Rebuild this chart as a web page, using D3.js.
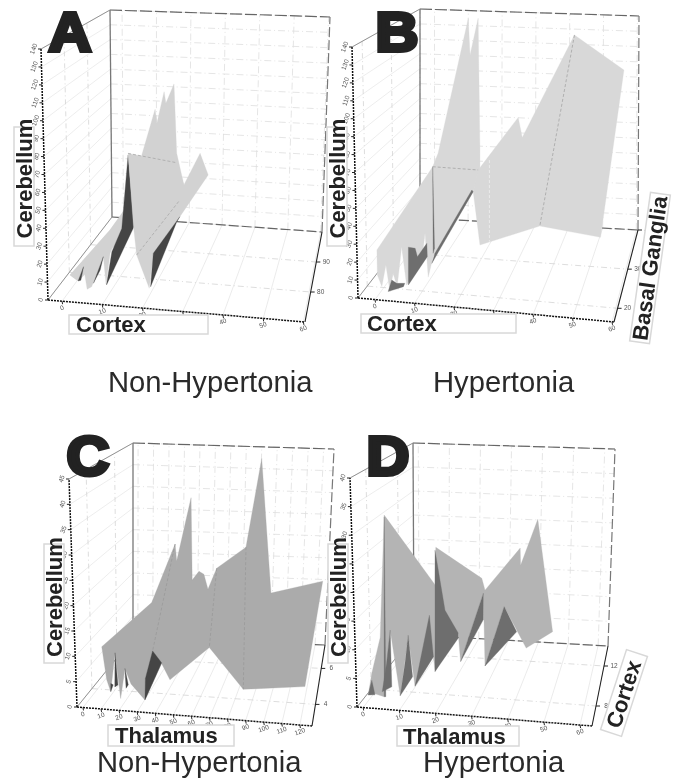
<!DOCTYPE html>
<html>
<head>
<meta charset="utf-8">
<script src="https://cdn.jsdelivr.net/npm/d3@7/dist/d3.min.js"></script>
<style>
html,body{margin:0;padding:0;background:#fff;}
svg{display:block;filter:blur(0.55px);}
text{font-family:"Liberation Sans",Arial,sans-serif;}
</style>
</head>
<body>
<svg id="chart" width="683" height="778"></svg>
<script>
// ---------- Axis values ----------
const cortexTicksAB = [0,10,20,30,40,50,60];
const thalamusTicksC = [0,10,20,30,40,50,60,70,80,90,100,110,120];
const thalamusTicksD = [0,10,20,30,40,50,60];
const cerebellumTicksAB = [0,10,20,30,40,50,60,70,80,90,100,110,120,130,140];
const cerebellumTicksC = [0,5,10,15,20,25,30,35,40,45];
const cerebellumTicksD = [0,5,10,15,20,25,30,35,40];
const depthTicksA = [80,90];
const depthTicksB = [20,30,40];
const depthTicksC = [4,6];
const depthTicksD = [8,12];

// ---------- Panel A: Cortex / Cerebellum surface pieces (non-hypertonia) ----------
const aBackX = [4.9,13.8,17.5,23.8,24.2,25.8,26.2,28,28.6,30.2,19,13.8,6.7];
const aBackZ = [13.8,38.7,51.8,109.1,100.5,119.2,112.1,123.3,81.1,61.5,39.3,26.5,9.7];
const aLowX = [4.9,6.7,7.9,8.7,9.7,12.3,12.9,13.8,16.4,17.5,13.8];
const aLowZ = [13.8,9.7,18,4.1,5.4,22.9,6.2,24.5,39.9,51.8,38.7];
const aSheetX = [17.8,28.6,30.2,33.8,35.6,29.3,23.4,22.5,19.7,19];
const aSheetZ = [84,75.4,61.5,79.7,66.1,42.5,21.9,1,21.9,39.3];
const aDark1X = [17.8,19.1,13,14.2,16.4], aDark1Z = [83,39.2,5.6,25.4,38.9];
const aDark2X = [12.3,10.1,11.6], aDark2Z = [22.9,7.4,15];
const aDark3X = [7.9,6.7,7.3], aDark3Z = [18,9.7,10];
const aDark4X = [29.3,23.4,22.8,28.6], aDark4Z = [42.5,21.9,1.8,39.5];
const aFoldX = [[17.8,28.6],[19.7,29.3]], aFoldZ = [[84,75.4],[21.9,52.6]];

// ---------- Panel B: Cortex / Cerebellum surface pieces (hypertonia) ----------
const bLeftX = [4.2,16.6,17.8,24.5,24.9,26.7,27.1,27.1,25.6,16.7,15.6,14.9,14.2,10.8,9.7,8.7,7.8,7.1,6.2,5.3,4.3];
const bLeftZ = [23.1,61.9,68.4,134.3,115.9,133.9,67.9,57.9,47.4,16.9,6.9,29,15.8,4,23.4,3.7,10.6,1.6,15.1,4.5,10.5];
const bRightX = [26.7,35.6,36.5,48.1,59.1,53.9,40.4,27.1,25.6];
const bRightZ = [58,82.3,72.1,120.7,100.7,18.2,26.9,20.4,47.4];
const bDark1X = [16.6,16.7,17], bDark1Z = [61.9,18.6,21];
const bDark2X = [25.6,25.3,17.1,16.4], bDark2Z = [47.4,48.3,18.5,13.6];
const bDark3X = [11.2,12.7,13.2,15.3,15.4,11.2], bDark3Z = [22.9,22,17.7,23.9,17.2,4];
const bDark4X = [6.7,7.5,8.6,10.4,10.1], bDark4Z = [1.7,7.3,5.4,5,3.4];
const bFoldX = [[16.6,26.7],[48.1,40.4]], bFoldZ = [[61.9,58],[120.7,26.9]];
const bPaleFoldX = [[29.2,29.2]], bPaleFoldZ = [[62.4,21.6]];

// ---------- Panel C: Thalamus / Cerebellum surface pieces (non-hypertonia) ----------
const cMainX = [11,33.2,43.6,44.3,50.7,51.2,54.2,56.4,58.2,62.1,75.1,82.1,86.2,109.2,101.3,73.9,58.8,41.3,37.6,30.2,24,21.3,19.4,16.9,15,13.2];
const cMainZ = [10.6,17.9,28.2,25.1,36.4,21.4,22.9,22.3,19.5,23.2,26.6,42.5,17.9,19.3,0.4,0.8,8.9,3.6,6.7,0.3,3.4,6.3,0.9,9.3,2.3,4.5];
const cDark1X = [33.6,37.6,30.2,30.4], cDark1Z = [9.1,6.8,0.3,4.2];
const cDark2X = [16.9,18.2,16.8], cDark2Z = [9.3,3.4,3.1];
const cDark3X = [21.3,22.8,21.8], cDark3Z = [6.3,3.3,2.7];
const cDark4X = [15,16.1,15], cDark4Z = [2.3,3.5,3.8];
const cFoldX = [[43.6,33.6],[75.1,73.9],[62.1,58.8]], cFoldZ = [[28.2,9.1],[26.6,0.8],[23.2,8.9]];

// ---------- Panel D: Thalamus / Cerebellum surface pieces (hypertonia) ----------
const dMainX = [2.8,3.7,5.8,6.8,19.5,19.7,31.2,32,40.8,40.9,45.2,48.9,42.3,36.8,32,31.6,25.9,25.3,19.5,19.1,14.5,12.8,10.8,8.3,6.8,4.1];
const dMainZ = [1.9,5.6,11.7,32.9,19.9,26.4,20.2,18.1,24.8,21.8,29.5,9.7,7.3,14.9,4.9,17.6,6.1,11.1,4.8,7.4,2.6,11.6,1.2,12.8,1.3,2.1];
const dDark1X = [6.8,7.2,6.8], dDark1Z = [32.6,1.3,1.3];
const dDark2X = [8.3,8.7,6.3,7.4], dDark2Z = [12.8,2.9,2.2,7.1];
const dDark3X = [12.8,13.9,10.8,12], dDark3Z = [11.6,4.3,1.2,6.8];
const dDark4X = [18.1,19.1,14.5], dDark4Z = [14.7,7.4,2.6];
const dDark5X = [19.5,22,25.3,25.3,19.5], dDark5Z = [25.9,15.3,11.1,10.2,4.8];
const dDark6X = [31.6,31.6,25.9], dDark6Z = [17.6,13,6.1];
const dDark7X = [36.8,39.9,32], dDark7Z = [14.9,10.3,4.9];
const dDark8X = [2.8,3.7,4.5], dDark8Z = [1.9,4.4,1.8];

const pair = (xs,zs) => xs.map((x,i)=>[x,zs[i]]);
const folds = (xs,zs,color) => xs.map((x,i)=>({color,pts:pair(x,zs[i])}));

// ---------- Panels ----------
const panels = [
 { letter:"A", letterPos:[70,51],
   box:{flb:[48,300],frb:[305,322],blb:[112,217],brb:[322,232],flt:[41,49],blt:[110,10],brt:[330,17]},
   xAxis:[-3.5,60.4], zAxis:[0,140], dAxis:[70,100],
   xTicks:cortexTicksAB, zTicks:cerebellumTicksAB, dTicks:depthTicksA,
   plane:{xd:[0,60],xr:[48,318],by:[300,273],k:1.65},
   layers:[
     ["#d2d2d2",pair(aBackX,aBackZ)],["#d2d2d2",pair(aLowX,aLowZ)],
     ["#454545",pair(aDark1X,aDark1Z)],["#454545",pair(aDark2X,aDark2Z)],["#454545",pair(aDark3X,aDark3Z)],
     ["#d2d2d2",pair(aSheetX,aSheetZ)],["#454545",pair(aDark4X,aDark4Z)]
   ], folds:folds(aFoldX,aFoldZ,"#a8a8a8")},
 { letter:"B", letterPos:[397,51],
   box:{flb:[358,298],frb:[614,322],blb:[420,218],brb:[638,230],flt:[352,47],blt:[420,9],brt:[639,16]},
   xAxis:[-4.3,60.5], zAxis:[0,140], dAxis:[16.5,40],
   xTicks:cortexTicksAB, zTicks:cerebellumTicksAB, dTicks:depthTicksB,
   plane:{xd:[0,60],xr:[358,628],by:[298,271],k:2},
   layers:[
     ["#d8d8d8",pair(bLeftX,bLeftZ)],["#d8d8d8",pair(bRightX,bRightZ)],
     ["#6e6e6e",pair(bDark1X,bDark1Z)],["#6e6e6e",pair(bDark2X,bDark2Z)],
     ["#6e6e6e",pair(bDark3X,bDark3Z)],["#6e6e6e",pair(bDark4X,bDark4Z)]
   ], folds:[...folds(bFoldX,bFoldZ,"#a4a4a4"),...folds(bPaleFoldX,bPaleFoldZ,"#f0f0f0")]},
 { letter:"C", letterPos:[88,475],
   box:{flb:[77,707],frb:[312,726],blb:[133,638],brb:[325,645],flt:[69,479],blt:[133,443],brt:[334,449]},
   xAxis:[-3.3,126.7], zAxis:[0,45], dAxis:[2.8,7.3],
   xTicks:thalamusTicksC, zTicks:cerebellumTicksC, dTicks:depthTicksC,
   plane:{xd:[0,110],xr:[77,324.5],by:[707,687.2],k:5.5},
   layers:[
     ["#ababab",pair(cMainX,cMainZ)],["#454545",pair(cDark1X,cDark1Z)],["#454545",pair(cDark2X,cDark2Z)],
     ["#454545",pair(cDark3X,cDark3Z)],["#454545",pair(cDark4X,cDark4Z)]
   ], folds:folds(cFoldX,cFoldZ,"#999")},
 { letter:"D", letterPos:[388,475],
   box:{flb:[357,707],frb:[592,726],blb:[414,635],brb:[608,646],flt:[350,478],blt:[413,443],brt:[615,449]},
   xAxis:[-1.7,63.3], zAxis:[0,40], dAxis:[6,14],
   xTicks:thalamusTicksD, zTicks:cerebellumTicksD, dTicks:depthTicksD,
   plane:{xd:[0,60],xr:[357,597],by:[707,683],k:5.75},
   layers:[
     ["#b4b4b4",pair(dMainX,dMainZ)],["#6e6e6e",pair(dDark1X,dDark1Z)],["#6e6e6e",pair(dDark2X,dDark2Z)],
     ["#6e6e6e",pair(dDark3X,dDark3Z)],["#6e6e6e",pair(dDark4X,dDark4Z)],["#6e6e6e",pair(dDark5X,dDark5Z)],
     ["#6e6e6e",pair(dDark6X,dDark6Z)],["#6e6e6e",pair(dDark7X,dDark7Z)],["#6e6e6e",pair(dDark8X,dDark8Z)]
   ], folds:[]}
];

const svg = d3.select("#chart");
const mix = (a,b,t)=>[a[0]+(b[0]-a[0])*t,a[1]+(b[1]-a[1])*t];
const seg = (g,a,b,cls)=>g.append("line").attr("x1",a[0]).attr("y1",a[1]).attr("x2",b[0]).attr("y2",b[1])
   .attr("stroke",cls.c).attr("stroke-width",cls.w).attr("stroke-dasharray",cls.d||null);

const gridFloor={c:"#e6e6e6",w:.8};
const gridFloorD={c:"#d4d4d4",w:.8,d:"6 3 1 3"};
const gridBack={c:"#dedede",w:.8,d:"7 3 1 3"};
const gridLeft={c:"#e8e8e8",w:.8};
const gridLeftD={c:"#d4d4d4",w:.8,d:"5 3 1 3"};

panels.forEach(p=>{
  const b=p.box, g=svg.append("g");
  const xu=d3.scaleLinear().domain(p.xAxis).range([0,1]);
  const zu=d3.scaleLinear().domain(p.zAxis).range([0,1]);
  const du=d3.scaleLinear().domain(p.dAxis).range([0,1]);

  // floor grid
  p.xTicks.forEach(v=>{const t=xu(v); seg(g,mix(b.flb,b.frb,t),mix(b.blb,b.brb,t),gridFloor);});
  p.dTicks.forEach(v=>{const t=du(v); seg(g,mix(b.flb,b.blb,t),mix(b.frb,b.brb,t),gridFloorD);});
  // back wall grid
  p.xTicks.forEach(v=>{const t=xu(v); seg(g,mix(b.blb,b.brb,t),mix(b.blt,b.brt,t),gridBack);});
  p.zTicks.forEach(v=>{const t=zu(v); seg(g,mix(b.blb,b.blt,t),mix(b.brb,b.brt,t),gridBack);});
  // left wall grid
  p.zTicks.forEach(v=>{const t=zu(v); seg(g,mix(b.flb,b.flt,t),mix(b.blb,b.blt,t),gridLeft);});
  p.dTicks.forEach(v=>{const t=du(v); seg(g,mix(b.flb,b.blb,t),mix(b.flt,b.blt,t),gridLeftD);});

  // frame
  seg(g,b.blt,b.brt,{c:"#666",w:1.2,d:"12 3"});
  seg(g,b.blb,b.brb,{c:"#666",w:1.2,d:"10 3"});
  seg(g,b.brb,b.brt,{c:"#777",w:1.2,d:"10 3"});
  seg(g,b.blb,b.blt,{c:"#777",w:1.3});
  seg(g,b.flt,b.blt,{c:"#888",w:.9});
  seg(g,b.flb,b.blb,{c:"#888",w:.9});

  // surface
  const sx=d3.scaleLinear().domain(p.plane.xd).range(p.plane.xr);
  const by=d3.scaleLinear().domain(p.plane.xd).range(p.plane.by);
  const sy=d=>by(d[0])-p.plane.k*d[1];
  const line=d3.line().x(d=>sx(d[0])).y(sy).curve(d3.curveLinearClosed);
  const open=d3.line().x(d=>sx(d[0])).y(sy);
  g.selectAll("path.layer").data(p.layers).join("path").attr("class","layer")
    .attr("d",d=>line(d[1])).attr("fill",d=>d[0]).attr("stroke",d=>d[0]).attr("stroke-width",.3);
  g.selectAll("path.fold").data(p.folds).join("path").attr("class","fold")
    .attr("d",d=>open(d.pts)).attr("fill","none").attr("stroke",d=>d.color).attr("stroke-width",.8).attr("stroke-dasharray","3 2");

  // axes with ticks
  const axisLine={c:"#111",w:1.5,d:"2 1"};
  seg(g,b.flb,b.frb,axisLine); seg(g,b.flb,b.flt,axisLine); seg(g,b.frb,b.brb,{c:"#222",w:1.1});
  const tick={c:"#222",w:1};
  const label=(pos,txt,rot)=>g.append("text").attr("transform",`translate(${pos[0]},${pos[1]}) rotate(${rot})`)
    .attr("font-size",6.5).attr("fill","#555").attr("text-anchor","middle").attr("dominant-baseline","middle").text(txt);
  p.xTicks.forEach(v=>{const q=mix(b.flb,b.frb,xu(v));
    seg(g,q,[q[0]+.5,q[1]+3],tick); label([q[0],q[1]+7],v,-20);});
  p.zTicks.forEach(v=>{const q=mix(b.flb,b.flt,zu(v));
    seg(g,q,[q[0]-3,q[1]],tick); label([q[0]-7,q[1]],v,-70);});
  p.dTicks.forEach(v=>{const q=mix(b.frb,b.brb,du(v));
    seg(g,q,[q[0]+4,q[1]],tick); label([q[0]+10,q[1]],v,0);});

  // panel letter
  svg.append("text").attr("transform",`translate(${p.letterPos[0]},${p.letterPos[1]}) scale(1.08,1)`)
    .attr("text-anchor","middle")
    .attr("font-size",55).attr("font-weight",700).attr("fill","#222").attr("stroke","#222").attr("stroke-width",4)
    .attr("stroke-linejoin","miter").text(p.letter);
});

// ---------- Axis titles in framed boxes ----------
const titles=[
 {t:"Cerebellum",cx:24,cy:186.5,bw:119,bh:20,rot:-90,tx:-52,ty:8},
 {t:"Cerebellum",cx:337,cy:186.5,bw:119,bh:20,rot:-90,tx:-52,ty:8},
 {t:"Cerebellum",cx:54,cy:603.5,bw:119,bh:20,rot:-90,tx:-53.5,ty:8},
 {t:"Cerebellum",cx:338,cy:603.5,bw:119,bh:20,rot:-90,tx:-53.5,ty:8},
 {t:"Cortex",cx:138.5,cy:324.5,bw:139,bh:19,rot:0,tx:-62.5,ty:7.5},
 {t:"Cortex",cx:438.5,cy:323.5,bw:155,bh:19,rot:0,tx:-71.5,ty:7.5},
 {t:"Thalamus",cx:171,cy:735.5,bw:126,bh:21,rot:0,tx:-56,ty:7.5},
 {t:"Thalamus",cx:458,cy:736,bw:122,bh:20,rot:0,tx:-55,ty:7.5},
 {t:"Basal Ganglia",cx:650,cy:268,bw:150,bh:20,rot:-82,tx:-73,ty:7.5},
 {t:"Cortex",cx:624,cy:693,bw:84,bh:22,rot:-72,tx:-36,ty:7.5}
];
titles.forEach(d=>{
  const g=svg.append("g").attr("transform",`translate(${d.cx},${d.cy}) rotate(${d.rot})`);
  g.append("rect").attr("x",-d.bw/2).attr("y",-d.bh/2).attr("width",d.bw).attr("height",d.bh)
    .attr("fill","#fff").attr("stroke","#d8d8d8").attr("stroke-width",1.5);
  g.append("text").attr("x",d.tx).attr("y",d.ty).attr("font-size",22).attr("font-weight",700).attr("fill","#222").text(d.t);
});

// ---------- Captions ----------
[["Non-Hypertonia",108,392],["Hypertonia",433,392],["Non-Hypertonia",97,772],["Hypertonia",423,772]].forEach(c=>{
  svg.append("text").attr("x",c[1]).attr("y",c[2]).attr("font-size",29.2).attr("fill","#2a2a2a").text(c[0]);
});
</script>
</body>
</html>
